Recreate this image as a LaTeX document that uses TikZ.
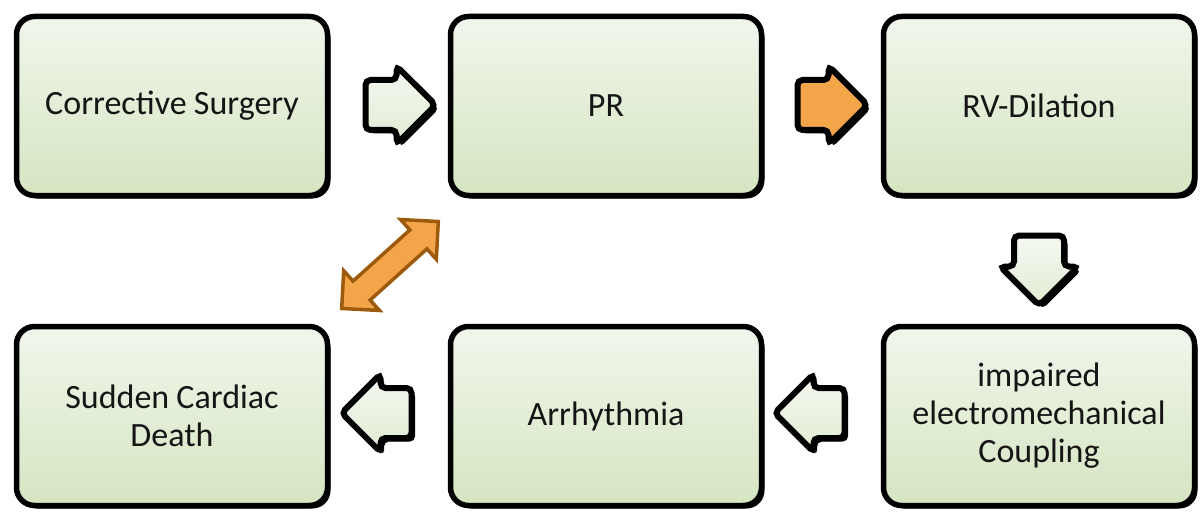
\documentclass[tikz,border=0pt]{standalone}
\usepackage{fontspec}
\setmainfont{Carlito}
\usetikzlibrary{shapes.arrows,shadows}
\definecolor{boxtop}{HTML}{F1F6EC}
\definecolor{boxbot}{HTML}{D5E5C1}
\definecolor{arrtop}{HTML}{F5F8F1}
\definecolor{arrbot}{HTML}{E0ECD3}
\definecolor{orangefill}{HTML}{F4A54A}
\definecolor{brownedge}{HTML}{9C5A0C}
\definecolor{txt}{HTML}{151515}
\tikzset{
  stagebox/.style={rectangle, rounded corners=18pt, draw=black, line width=5.5pt,
    top color=boxtop, bottom color=boxbot, minimum width=311pt, minimum height=179pt,
    text width=300pt, text=txt,
    font=\fontsize{34}{38}\selectfont,
    execute at begin node={\centering\spaceskip=0.21em\relax},
    drop shadow={shadow xshift=3pt, shadow yshift=-3pt, opacity=1, fill=black}},
  blockarrow/.style={single arrow, single arrow head extend=14pt, inner sep=0pt,
    inner ysep=22pt, minimum height=70pt, rounded corners=5pt, draw=black, line width=6pt,
    top color=arrtop, bottom color=arrbot,
    drop shadow={shadow xshift=3.5pt, shadow yshift=-3.5pt, opacity=1, fill=black}},
  orangearrow/.style={blockarrow, top color=orangefill, bottom color=orangefill},
  twoway/.style={double arrow, double arrow head extend=14pt, inner sep=0pt,
    inner ysep=11pt, minimum height=130pt, draw=brownedge, line width=3.5pt,
    fill=orangefill}
}
\begin{document}
\begin{tikzpicture}[x=1pt,y=1pt]
\useasboundingbox (0,0) rectangle (1201,515);
\node[stagebox] (cs) at (172,409) {Corrective Surgery};
\node[stagebox] (pr) at (606,409) {PR};
\node[stagebox] (rv) at (1039,409) {RV-Dilation};
\node[stagebox] (sc) at (172,99) {Sudden Cardiac\\Death};
\node[stagebox] (ar) at (606,99) {Arrhythmia};
\node[stagebox] (ie) at (1039,99) {impaired\\electromechanical\\Coupling};
\node[blockarrow] (a1) at (388,410) {};
\node[orangearrow] (a2) at (820,410) {};
\node[blockarrow, rotate=270] (a3) at (1039,257) {};
\node[blockarrow, rotate=180] (a4) at (822,102) {};
\node[blockarrow, rotate=180] (a5) at (389,102) {};
\node[twoway, rotate=42] (a6) at (390,250) {};
\end{tikzpicture}
\end{document}
